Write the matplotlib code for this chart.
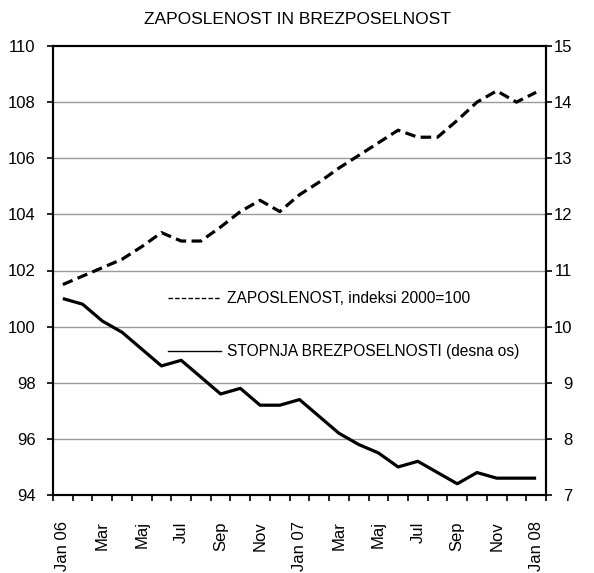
import numpy as np
import matplotlib
matplotlib.use('Agg')
import matplotlib.pyplot as plt
from matplotlib.lines import Line2D

# --- datos ---
meses = ['Jan 06', 'Feb', 'Mar', 'Apr', 'Maj', 'Jun', 'Jul', 'Avg', 'Sep', 'Okt', 'Nov', 'Dec',
         'Jan 07', 'Feb', 'Mar', 'Apr', 'Maj', 'Jun', 'Jul', 'Avg', 'Sep', 'Okt', 'Nov', 'Dec', 'Jan 08']
zaposlenost = [101.5, 101.8, 102.1, 102.4, 102.85, 103.35, 103.05, 103.05, 103.55, 104.1, 104.5, 104.1,
               104.7, 105.15, 105.65, 106.1, 106.55, 107.0, 106.75, 106.75, 107.35, 108.0, 108.4, 108.0, 108.35]
brezposelnost = [10.5, 10.4, 10.1, 9.9, 9.6, 9.3, 9.4, 9.1, 8.8, 8.9, 8.6, 8.6,
                 8.7, 8.4, 8.1, 7.9, 7.75, 7.5, 7.6, 7.4, 7.2, 7.4, 7.3, 7.3, 7.3]
oznake_x = ['Jan 06', 'Mar', 'Maj', 'Jul', 'Sep', 'Nov', 'Jan 07', 'Mar', 'Maj', 'Jul', 'Sep', 'Nov', 'Jan 08']

plt.rcParams['font.family'] = ['Liberation Sans', 'DejaVu Sans']
plt.rcParams['font.size'] = 12

x = np.arange(len(meses))

fig = plt.figure(figsize=(5.94, 5.73), dpi=100)
ax = fig.add_axes([53 / 594, 1 - 495 / 573, 493 / 594, 449 / 573])
ax2 = ax.twinx()

# --- series ---
ax.plot(x, zaposlenost, color='black', linewidth=2.3, linestyle=(0, (3.3, 1.7)),
        dash_capstyle='butt', zorder=3)
ax2.plot(x, brezposelnost, color='black', linewidth=2.3, solid_capstyle='butt', zorder=3)

# --- ejes ---
ax.set_xlim(-0.5, len(meses) - 0.5)
ax.set_ylim(94, 110)
ax.set_yticks(np.arange(94, 111, 2))
ax2.set_ylim(7, 15)
ax2.set_yticks(np.arange(7, 16, 1))

for y in np.arange(96, 110, 2):
    ax.axhline(y, color='#999999', linewidth=1.0, zorder=1)

ax.set_xticks(x[::2])
ax.set_xticklabels(oznake_x, rotation=90, fontsize=12)
ax.set_xticks(np.arange(-0.5, len(meses)), minor=True)
ax.tick_params(axis='x', which='major', length=0, pad=19)
ax.tick_params(axis='x', which='minor', length=4, width=1.2, direction='out')
ax.tick_params(axis='y', length=4, width=1.2, direction='out', pad=8.5)
ax2.tick_params(axis='y', length=4, width=1.2, direction='out', pad=15)
for lab in ax2.get_yticklabels():
    lab.set_horizontalalignment('right')

for a in (ax, ax2):
    for s in a.spines.values():
        s.set_linewidth(1.5)
        s.set_color('black')

# --- leyenda ---
h1 = Line2D([], [], color='black', linewidth=1.0, linestyle=(0, (3.2, 1.6)))
h2 = Line2D([], [], color='black', linewidth=1.0)
ax2.legend([h1, h2], ['ZAPOSLENOST, indeksi 2000=100', 'STOPNJA BREZPOSELNOSTI (desna os)'],
           loc='upper left', bbox_to_anchor=(168 / 594, 1 - 291 / 573),
           bbox_transform=fig.transFigure, frameon=False, borderpad=0, fontsize=11.2,
           handlelength=3.4, handletextpad=0.4, labelspacing=2.45, borderaxespad=0)

fig.text(0.5, 1 - 19 / 573, 'ZAPOSLENOST IN BREZPOSELNOST', ha='center', va='center', fontsize=12.5)

fig.savefig('out.png', dpi=100)
